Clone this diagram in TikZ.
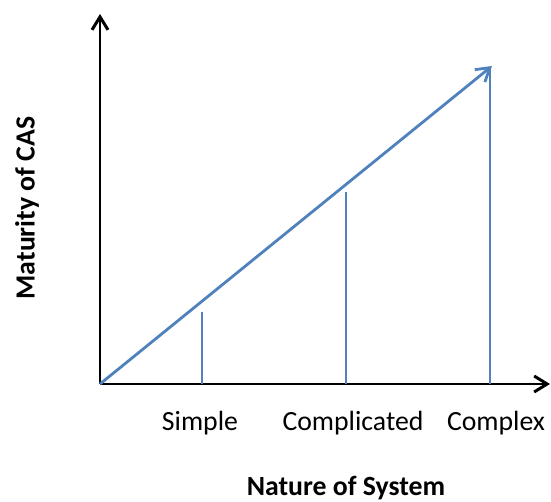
\documentclass[tikz,border=0pt]{standalone}
\usepackage{fontspec}
\setmainfont{Carlito}
\definecolor{casblue}{RGB}{79,129,189}
\usetikzlibrary{arrows.meta,positioning}

\begin{document}
\begin{tikzpicture}[x=0.02cm,y=-0.02cm,
  axis/.style={-{Straight Barb[length=2.6mm,width=3.2mm]},line width=1.7pt,black},
  trend/.style={-{Straight Barb[length=2.6mm,width=3.2mm]},line width=1.6pt,casblue},
  level/.style={line width=1.6pt,casblue},
  tick/.style={font=\fontsize{15.8}{18}\selectfont,anchor=center},
  title/.style={font=\fontsize{15.8}{18}\selectfont\bfseries,anchor=center}
]
  \useasboundingbox (0,0) rectangle (551,502);
  % axes
  \coordinate (origin) at (100,384);
  \coordinate (ytop) at (100,14);
  \coordinate (xend) at (550,384);
  \draw[axis] (origin) -- (ytop);
  \draw[axis] (origin) -- (xend);

  % levels
  \coordinate (simplebase) at (202,384);
  \coordinate (simpletop) at (202,312);
  \coordinate (complbase) at (346,384);
  \coordinate (compltop) at (346,192);
  \coordinate (cplxbase) at (490,384);
  \coordinate (cplxtop) at (490,68);
  \draw[level] (simplebase) -- (simpletop);
  \draw[level] (complbase) -- (compltop);
  \draw[level] (cplxbase) -- (cplxtop);

  % trend
  \coordinate (peak) at (492,66);
  \draw[trend] (origin) -- (peak);

  % labels
  \node[tick] (simple) at (200,423) {Simple};
  \node[tick] (complicated) at (353,423) {Complicated};
  \node[tick] (complex) at (496,423) {Complex};
  \node[title] (xlabel) at (346,488) {Nature of System};
  \node[title,rotate=90] (ylabel) at (27,208) {Maturity of CAS};
\end{tikzpicture}
\end{document}
